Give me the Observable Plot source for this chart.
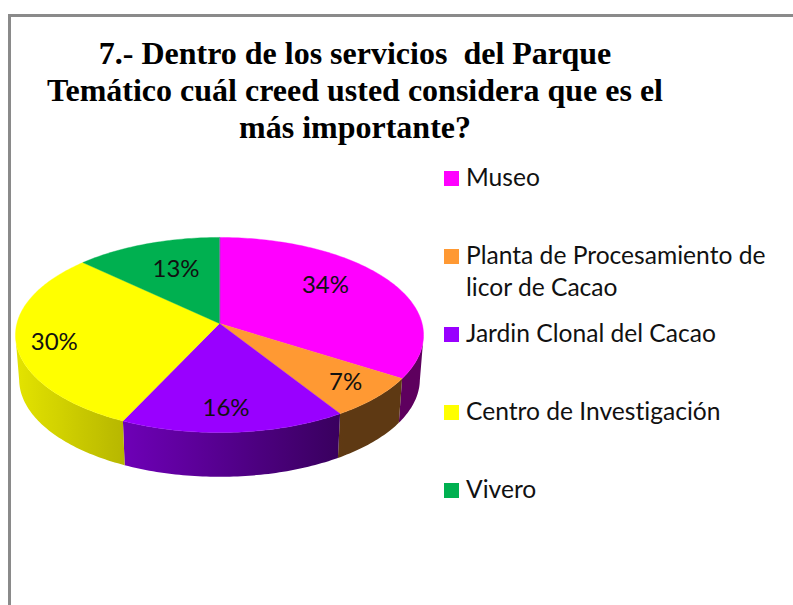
<!DOCTYPE html>
<html lang="es">
<head>
<meta charset="utf-8">
<script src="https://cdn.jsdelivr.net/npm/d3@7"></script>
<script src="https://cdn.jsdelivr.net/npm/@observablehq/plot@0.6"></script>
<style>
html,body{margin:0;padding:0;background:#fff;overflow:hidden}
#page{position:relative;width:793px;height:605px;overflow:hidden}
#frame{position:absolute;left:8px;top:14px;width:800px;height:620px;border:3px solid #8a8a8a;box-sizing:border-box}
#chart{position:absolute;left:0;top:0}
#chart svg{display:block;background:transparent}
#title{position:absolute;left:5px;top:35px;width:700px;text-align:center;font:bold 32px/37px "Liberation Serif",serif;color:#000;white-space:pre}
.lg{position:absolute;left:444px;font:24.6px/32px "Lato",sans-serif;font-variant-ligatures:none;color:#111}
.lg i{position:absolute;left:0;top:9px;width:15px;height:15px}
.lg span{position:absolute;left:22px;top:-1px;white-space:pre}
</style>
</head>
<body>
<div id="page">
  <div id="frame"></div>
  <div id="title"></div>
  <div id="chart"></div>
  <div id="legend"></div>
</div>
<script>
const titleLines = ["7.- Dentro de los servicios  del Parque", "Temático cuál creed usted considera que es el", "más importante?"];
const categories = ["Museo", "Planta de Procesamiento de\nlicor de Cacao", "Jardin Clonal del Cacao", "Centro de Investigación", "Vivero"];
const percents = [34, 7, 16, 30, 13];
const colors = ["#ff00ff", "#ff9933", "#9900ff", "#ffff00", "#00b050"];

// Tilted-disc perspective
const tilt = 0.118;
const wallDrop = 0.46, wallShrink = 0.982;
const project = (theta, r = 1) => {
  const u = r * Math.sin(theta), v = r * Math.cos(theta), w = 1 + tilt * v;
  return [u / w, v / w];
};
const total = d3.sum(percents);
let acc = 0;
const slices = percents.map((p, i) => {
  const a0 = acc / total * 2 * Math.PI;
  acc += p;
  return {i, p, a0, a1: acc / total * 2 * Math.PI, color: colors[i]};
});
const step = Math.PI / 180;
const arcAngles = (a0, a1) => {
  const n = Math.max(2, Math.ceil((a1 - a0) / step));
  return d3.range(n + 1).map(k => a0 + (a1 - a0) * k / n);
};

// Top faces
const topRows = slices.flatMap(s => {
  const pts = [[0, 0], ...arcAngles(s.a0, s.a1).map(a => project(a))];
  return pts.map(([x, y]) => ({id: s.i, x, y, color: s.color}));
});

// Side walls, shaded by horizontal position through a gradient per slice.
// A wall runs only over the front of the rim, between the disc's silhouette points.
const shadeAt = (c, x) => {
  const k = Math.max(0.37, 0.563 - 0.327 * x);
  const q = d3.rgb(c);
  return d3.rgb(q.r * k, q.g * k, q.b * k).formatHex();
};
const wallRows = [];
const gradients = [];
slices.forEach(s => {
  const front = arcAngles(s.a0, s.a1).filter(a => Math.cos(a) <= -tilt);
  if (front.length < 2) return;
  const upper = front.map(a => project(a));
  const lower = upper.map(([x, y]) => [x * wallShrink, y - wallDrop]).reverse();
  const pts = [...upper, ...lower];
  const [xMin, xMax] = d3.extent(pts, d => d[0]);
  gradients.push({
    id: "wall" + s.i,
    stops: d3.range(9).map(k => ({offset: k / 8, color: shadeAt(s.color, xMin + (xMax - xMin) * k / 8)}))
  });
  pts.forEach(([x, y]) => wallRows.push({id: s.i, x, y, paint: `url(#wall${s.i})`}));
});
const gradientDefs = () => {
  const defs = d3.create("svg:defs");
  gradients.forEach(g => {
    const lg = defs.append("linearGradient").attr("id", g.id).attr("x1", 0).attr("x2", 1).attr("y1", 0).attr("y2", 0);
    g.stops.forEach(t => lg.append("stop").attr("offset", t.offset).attr("stop-color", t.color));
  });
  return defs.node();
};

// Value labels: placed by the chart's best-fit layout, so each has a small pixel nudge
const labelNudge = [[-2, -10], [0, -1], [-5, -2], [1, 4], [4, -2]];
const labelRows = slices.map(s => {
  const mid = (s.a0 + s.a1) / 2;
  const [x, y] = project(mid, Math.cos(mid) > 0 ? 0.63 : 0.82);
  const [nx, ny] = labelNudge[s.i];
  return {x: x + nx / 202.6, y: y - ny / 96.2, label: s.p + "%"};
});

const chart = Plot.plot({
  width: 793, height: 605,
  margin: 0,
  x: {domain: [-1, 1], range: [16.4, 421.6], axis: null},
  y: {domain: [-1, 1], range: [419.2, 226.8], axis: null},
  color: {type: "identity"},
  marks: [
    gradientDefs,
    Plot.line(wallRows, {x: "x", y: "y", z: "id", fill: "paint", stroke: "none", curve: "linear-closed"}),
    Plot.line(topRows, {x: "x", y: "y", z: "id", fill: "color", stroke: "color", strokeWidth: 0.4, curve: "linear-closed"}),
    Plot.text(labelRows, {x: "x", y: "y", text: "label", fontSize: 24, fontFamily: "Lato, sans-serif", fill: "#111"})
  ]
});
document.getElementById("chart").append(chart);

document.getElementById("title").textContent = titleLines.join("\n");

const legendTops = [162, 240, 318, 396, 474];
const legend = document.getElementById("legend");
categories.forEach((c, i) => {
  const row = document.createElement("div");
  row.className = "lg";
  row.style.top = legendTops[i] + "px";
  const sw = document.createElement("i");
  sw.style.background = colors[i];
  const t = document.createElement("span");
  t.textContent = c;
  row.append(sw, t);
  legend.append(row);
});
</script>
</body>
</html>
